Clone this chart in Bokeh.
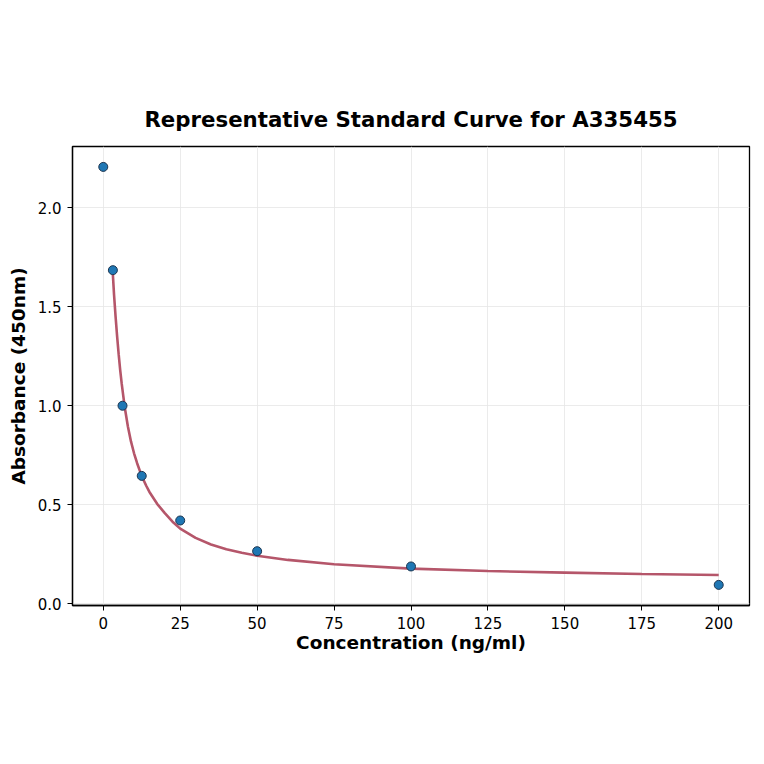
from bokeh.plotting import figure
from bokeh.models import FixedTicker, Range1d, NumeralTickFormatter
from bokeh.embed import file_html
from bokeh.resources import INLINE

# standards
conc = [0, 3.125, 6.25, 12.5, 25, 50, 100, 200]
absorb = [2.205, 1.684, 1.0, 0.646, 0.421, 0.266, 0.189, 0.096]

# fitted curve
fit_x = [3.125, 3.5, 4, 4.5, 5, 5.5, 6, 6.5, 7, 8, 9, 10, 11, 12.5, 14,
         15, 17.5, 20, 22.5, 25, 30, 35, 40, 45, 50, 60, 75, 100, 125,
         150, 175, 200]
fit_y = [1.66, 1.56, 1.45, 1.35, 1.26, 1.18, 1.11, 1.05, 0.99, 0.895, 0.82,
         0.76, 0.71, 0.645, 0.595, 0.565, 0.505, 0.458, 0.415, 0.38, 0.333,
         0.3, 0.276, 0.258, 0.243, 0.222, 0.2, 0.178, 0.166, 0.158, 0.151,
         0.146]

x_ticks = [0, 25, 50, 75, 100, 125, 150, 175, 200]
y_ticks = [0.0, 0.5, 1.0, 1.5, 2.0]

FONT = "DejaVu Sans"

p = figure(width=756, height=756,
           title="Representative Standard Curve for A335455",
           x_range=Range1d(-10, 210), y_range=Range1d(-0.008, 2.308),
           output_backend="svg", toolbar_location=None,
           min_border_left=72, min_border_right=7,
           min_border_top=146, min_border_bottom=151)

p.title.align = "center"
p.title.text_font = FONT
p.title.text_font_size = "21.3px"
p.title.text_font_style = "bold"
p.title.text_color = "black"
p.title.standoff = 30

p.outline_line_color = "black"
p.outline_line_width = 1.3
p.background_fill_color = "white"
p.border_fill_color = "white"

for ax in (p.xaxis[0], p.yaxis[0]):
    ax.axis_label_text_font = FONT
    ax.axis_label_text_font_size = "18.5px"
    ax.axis_label_text_font_style = "bold"
    ax.axis_label_text_color = "black"
    ax.major_label_text_font = FONT
    ax.major_label_text_font_size = "15px"
    ax.major_label_text_color = "black"
    ax.major_tick_in = 0
    ax.major_tick_out = 5
    ax.major_tick_line_color = "black"
    ax.minor_tick_out = 0
    ax.minor_tick_in = 0
    ax.axis_line_color = "black"
    ax.axis_line_width = 1.3

p.xaxis.axis_label = "Concentration (ng/ml)"
p.yaxis.axis_label = "Absorbance (450nm)"
p.xaxis.ticker = FixedTicker(ticks=x_ticks)
p.yaxis.ticker = FixedTicker(ticks=y_ticks)
p.yaxis.formatter = NumeralTickFormatter(format="0.0")
p.xaxis.major_label_standoff = 6
p.yaxis.major_label_standoff = 6
p.xaxis.axis_label_standoff = 0
p.yaxis.axis_label_standoff = 6

p.grid.grid_line_color = "#e6e6e6"
p.grid.grid_line_width = 0.8

p.line(fit_x, fit_y, line_color="#b5566a", line_width=2.6)
p.scatter(conc, absorb, size=9, fill_color="#1f77b4",
          line_color="#1c3550", line_width=1)

open("out.html", "w").write(file_html(p, INLINE))
